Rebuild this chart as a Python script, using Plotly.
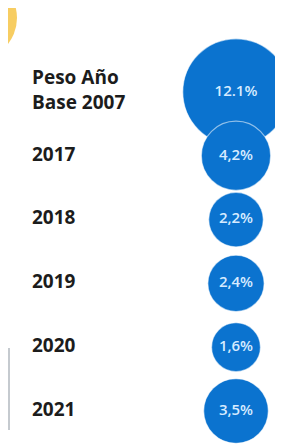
import numpy as np
import plotly.graph_objects as go

# Data
categories = ["Peso Año<br>Base 2007", "2017", "2018", "2019", "2020", "2021"]
values = [12.1, 4.2, 2.2, 2.4, 1.6, 3.5]
value_labels = ["12.1%", "4,2%", "2,2%", "2,4%", "1,6%", "3,5%"]

# the page body has an 8px margin; figure is sized to end at the window edge
OFF = 8
W, H = 283 - OFF, 446 - OFF
BLUE = "#0b73cf"

rows = np.arange(len(categories))
sizes = 16 + 26 * np.sqrt(np.array(values))

fig = go.Figure()

# bubbles
fig.add_trace(go.Scatter(
    x=[0] * len(values), y=rows,
    mode="markers+text",
    marker=dict(size=sizes, sizemode="diameter", color=BLUE, opacity=1,
                line=dict(color="rgba(255,255,255,0.55)", width=1.2)),
    text=value_labels, textposition="middle center",
    textfont=dict(family="Open Sans", size=15, color="#d6ebff", weight=600),
    hoverinfo="skip", showlegend=False,
))

# row labels
fig.add_trace(go.Scatter(
    x=[-204] * len(categories), y=rows,
    mode="text", text=["<b>" + c.replace("<br>", "</b><br><b>") + "</b>" for c in categories],
    textposition="middle right",
    textfont=dict(family="Open Sans", size=19, color="#1c1c1c"),
    hoverinfo="skip", showlegend=False,
))

# map rows: row 0 at page y 92, row 5 at page y 411
step = (411 - 92) / (len(categories) - 1)
first = 92 - OFF
y_top = -first / step
y_bot = (H - first) / step
cx = 236 - OFF

fig.update_layout(
    width=W, height=H,
    margin=dict(l=0, r=0, t=0, b=0),
    paper_bgcolor="white", plot_bgcolor="white",
    xaxis=dict(range=[-cx, W - cx], visible=False, fixedrange=True),
    yaxis=dict(range=[y_bot, y_top], visible=False, fixedrange=True),
    shapes=[
        dict(type="circle", xref="paper", yref="paper",
             x0=-75 / W, x1=9 / W, y0=1 - 52 / H, y1=1 + 32 / H,
             fillcolor="rgba(246,196,70,0.85)", line=dict(width=0), layer="below"),
        dict(type="line", xref="paper", yref="paper",
             x0=1 / W, x1=1 / W, y0=1 - 340 / H, y1=1 - 422 / H,
             line=dict(color="rgba(140,150,160,0.5)", width=2)),
    ],
)

fig.write_html("out.html")
